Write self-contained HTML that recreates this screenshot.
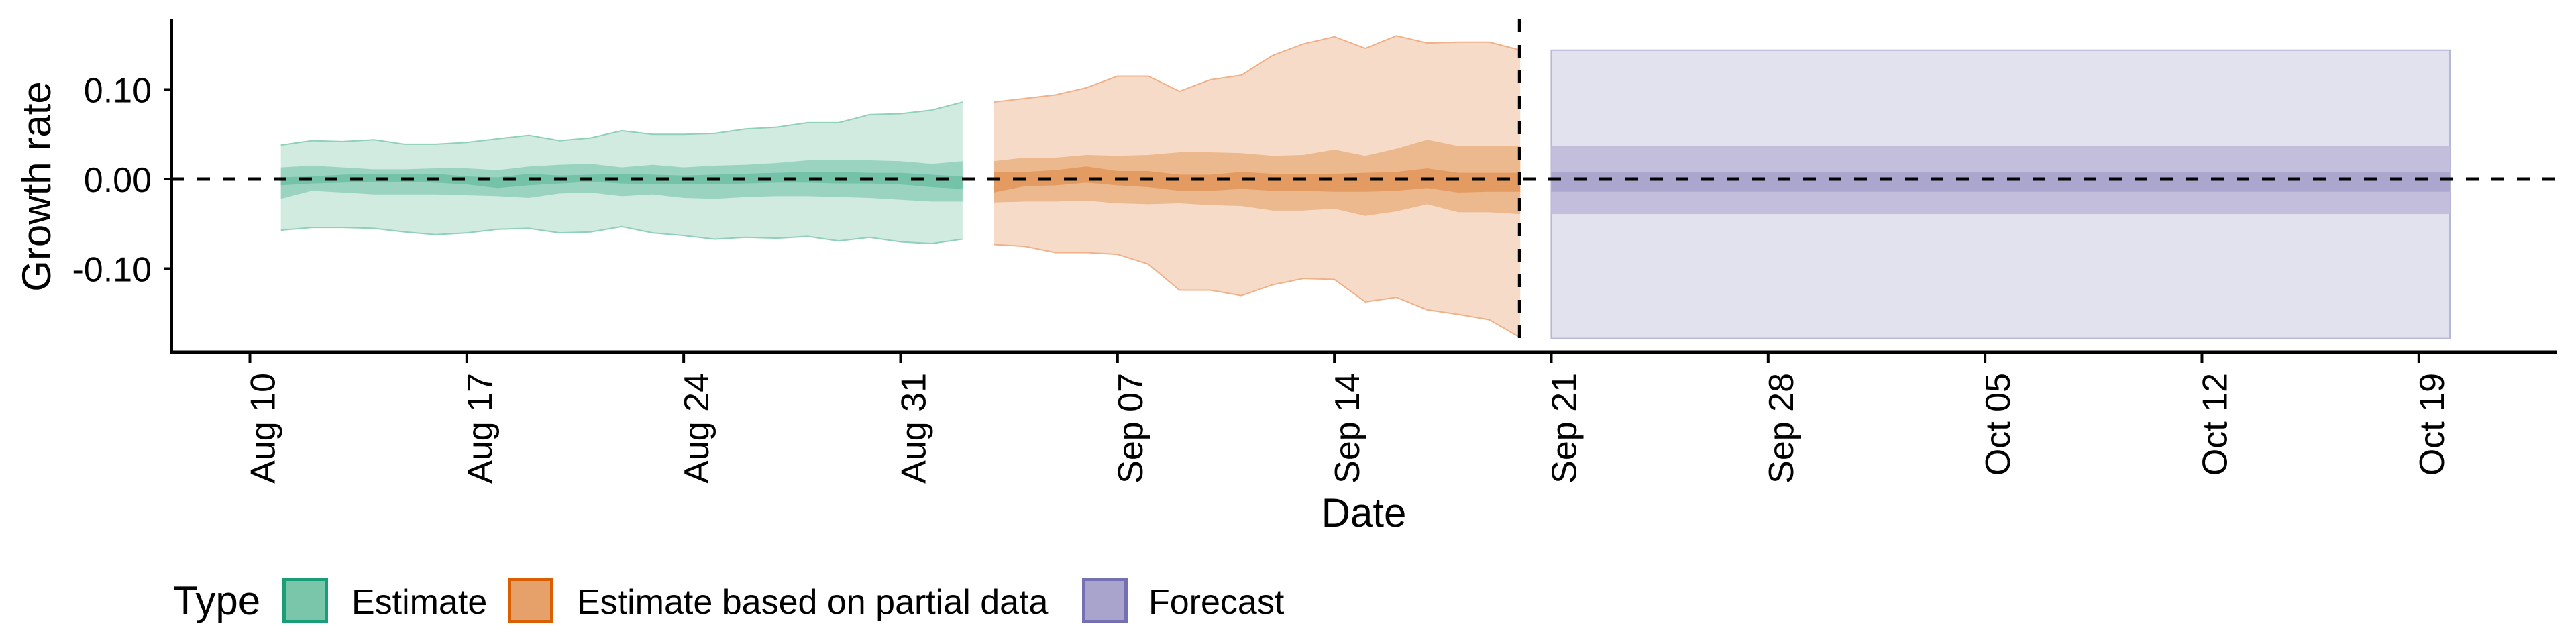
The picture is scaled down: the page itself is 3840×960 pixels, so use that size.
<!DOCTYPE html>
<html><head><meta charset="utf-8"><style>
html,body{margin:0;padding:0;background:#fff;}
svg{display:block;font-family:"Liberation Sans",sans-serif;}
</style></head><body>
<svg id="chart" width="3840" height="960" viewBox="0 0 3840 960" xmlns="http://www.w3.org/2000/svg">
<g id="bands"></g>
<g id="axes"></g>
<g id="legend"></g>
</svg>
<script>
// data
const estStartDay = 1;   // days after Aug 10
const estUpper90 = [0.038,0.043,0.042,0.044,0.039,0.039,0.041,0.045,0.049,0.043,0.046,0.054,0.050,0.050,0.051,0.056,0.058,0.063,0.063,0.072,0.073,0.077,0.086];
const estLower90 = [-0.057,-0.054,-0.054,-0.055,-0.059,-0.062,-0.060,-0.056,-0.055,-0.060,-0.059,-0.053,-0.060,-0.063,-0.067,-0.065,-0.066,-0.064,-0.069,-0.065,-0.070,-0.072,-0.067];
const estUpper50 = [0.013,0.015,0.013,0.011,0.011,0.012,0.012,0.010,0.014,0.016,0.017,0.013,0.016,0.013,0.015,0.016,0.018,0.021,0.021,0.021,0.020,0.017,0.020];
const estLower50 = [-0.022,-0.013,-0.015,-0.017,-0.017,-0.017,-0.018,-0.019,-0.021,-0.016,-0.015,-0.019,-0.017,-0.021,-0.022,-0.020,-0.019,-0.019,-0.020,-0.021,-0.023,-0.025,-0.025];
const estUpper20 = [0.002,0.003,0.005,0.006,0.006,0.006,0.003,0.002,0.006,0.004,0.005,0.006,0.005,0.004,0.005,0.006,0.007,0.008,0.008,0.007,0.007,0.005,0.003];
const estLower20 = [-0.007,-0.005,-0.004,-0.003,-0.003,-0.004,-0.006,-0.010,-0.007,-0.005,-0.003,-0.005,-0.006,-0.006,-0.006,-0.005,-0.004,-0.004,-0.005,-0.005,-0.006,-0.009,-0.011];

const partStartDay = 24;
const partUpper90 = [0.086,0.090,0.094,0.102,0.115,0.115,0.098,0.111,0.116,0.138,0.151,0.159,0.146,0.160,0.152,0.153,0.153,0.144];
const partLower90 = [-0.073,-0.075,-0.082,-0.082,-0.084,-0.095,-0.124,-0.124,-0.130,-0.118,-0.111,-0.112,-0.137,-0.132,-0.146,-0.151,-0.157,-0.177];
const partUpper50 = [0.020,0.024,0.024,0.027,0.026,0.027,0.030,0.030,0.029,0.026,0.027,0.033,0.026,0.034,0.044,0.037,0.037,0.037];
const partLower50 = [-0.026,-0.025,-0.025,-0.024,-0.027,-0.028,-0.027,-0.029,-0.030,-0.035,-0.035,-0.033,-0.041,-0.036,-0.028,-0.037,-0.037,-0.039];
const partUpper20 = [0.008,0.008,0.010,0.014,0.009,0.009,0.005,0.005,0.008,0.006,0.006,0.006,0.007,0.008,0.012,0.007,0.007,0.007];
const partLower20 = [-0.015,-0.008,-0.007,-0.004,-0.007,-0.009,-0.013,-0.013,-0.011,-0.013,-0.013,-0.014,-0.014,-0.013,-0.010,-0.015,-0.014,-0.014];

const fcStartDay = 42, fcEndDay = 71;
const fcBounds90 = [0.144,-0.178];
const fcBounds50 = [0.037,-0.039];
const fcBounds20 = [0.0075,-0.014];

const forecastDateDay = 41;
const xTickLabels = ["Aug 10","Aug 17","Aug 24","Aug 31","Sep 07","Sep 14","Sep 21","Sep 28","Oct 05","Oct 12","Oct 19"];
const xTickDays = [0,7,14,21,28,35,42,49,56,63,70];
const yTickValues = [0.10,0.00,-0.10];
const yTickLabels = ["0.10","0.00","-0.10"];

// scales
const L=256,R=3811,T=29,B=525;
const x = d => 372.5 + d*46.19;
const y = v => 267 - v*1335;
const NS="http://www.w3.org/2000/svg";
function mk(tag, attrs, parent){const e=document.createElementNS(NS,tag);for(const k in attrs)e.setAttribute(k,attrs[k]);parent.appendChild(e);return e;}
const bands=document.getElementById('bands'), axes=document.getElementById('axes'), legend=document.getElementById('legend');

function band(start, up, lo, fill, stroke, name){
  let pts=up.map((v,i)=>x(start+i)+","+y(v));
  for(let i=lo.length-1;i>=0;i--)pts.push(x(start+i)+","+y(lo[i]));
  const p=mk('polygon',{points:pts.join(" "),fill:fill},bands);
  
  
  if(stroke){
    const a=mk('polyline',{points:up.map((v,i)=>x(start+i)+","+y(v)).join(" "),fill:"none",stroke:stroke,"stroke-width":2},bands);
    
    
    const b=mk('polyline',{points:lo.map((v,i)=>x(start+i)+","+y(v)).join(" "),fill:"none",stroke:stroke,"stroke-width":2},bands);
    
    
  }
}
band(estStartDay,estUpper90,estLower90,"#d1ebe1","#8fd0ba","estimate-90-band");
band(estStartDay,estUpper50,estLower50,"#9ad4c1",null,"estimate-50-band");
band(estStartDay,estUpper20,estLower20,"#74c3a9",null,"estimate-20-band");
band(partStartDay,partUpper90,partLower90,"#f6dcc8","#f0b088","partial-90-band");
band(partStartDay,partUpper50,partLower50,"#ecb88d",null,"partial-50-band");
band(partStartDay,partUpper20,partLower20,"#e49b62",null,"partial-20-band");
[[fcBounds90,"#e2e2ee","#b8b5d6","forecast-90-band"],[fcBounds50,"#c2bedc",null,"forecast-50-band"],[fcBounds20,"#aaa6ce",null,"forecast-20-band"]].forEach(f=>{
  const r=mk('rect',{x:x(fcStartDay),y:y(f[0][0]),width:x(fcEndDay)-x(fcStartDay),height:y(f[0][1])-y(f[0][0]),fill:f[1]},bands);
  if(f[2]){r.setAttribute('stroke',f[2]);r.setAttribute('stroke-width',2);}
  
  
});

// zero line & forecast line
const zl=mk('line',{x1:L,x2:R,y1:y(0),y2:y(0),stroke:"#000","stroke-width":5,"stroke-dasharray":"19 19"},axes);


const vl=mk('line',{x1:x(forecastDateDay)-1,x2:x(forecastDateDay)-1,y1:T,y2:B,stroke:"#000","stroke-width":5,"stroke-dasharray":"19 19"},axes);



// axes
const ya=mk('line',{x1:L,x2:L,y1:T,y2:B+2,stroke:"#000","stroke-width":4},axes);


const xa=mk('line',{x1:L-2,x2:R,y1:B,y2:B,stroke:"#000","stroke-width":5},axes);


yTickValues.forEach((v,i)=>{
  const t=mk('line',{x1:L-12,x2:L,y1:y(v),y2:y(v),stroke:"#000","stroke-width":4},axes);
  
  
  const tx=mk('text',{x:226,y:y(v)+19,"text-anchor":"end","font-size":52,fill:"#000"},axes);
  tx.textContent=yTickLabels[i];
  
  
});
xTickDays.forEach((d,i)=>{
  const t=mk('line',{x1:x(d),x2:x(d),y1:B,y2:B+16,stroke:"#000","stroke-width":4},axes);
  
  
  const tx=mk('text',{x:0,y:0,"text-anchor":"end","font-size":52,fill:"#000",transform:`translate(${x(d)+37},556) rotate(-90)`},axes);
  tx.textContent=xTickLabels[i];
  
  
});
const yt=mk('text',{x:0,y:0,"text-anchor":"middle","font-size":60,fill:"#000",transform:"translate(75,278) rotate(-90)"},axes);
yt.textContent="Growth rate";


const xt=mk('text',{x:2033,y:785,"text-anchor":"middle","font-size":60,fill:"#000"},axes);
xt.textContent="Date";



// legend
const lt=mk('text',{x:258,y:916,"font-size":60,fill:"#000"},legend);
lt.textContent="Type";


const legendItems=[["Estimate",421,"#79c6ab","#1b9e77",524,"legend-entry-estimate"],["Estimate based on partial data",757,"#e6a06a","#d95f02",860,"legend-entry-partial"],["Forecast",1613,"#a8a4cc","#7570b3",1712,"legend-entry-forecast"]];
legendItems.forEach(it=>{
  const r=mk('rect',{x:it[1]+2.5,y:863.5,width:63,height:63,fill:it[2],stroke:it[3],"stroke-width":5},legend);
  
  
  const t=mk('text',{x:it[4],y:915,"font-size":52,fill:"#000"},legend);
  t.textContent=it[0];
  
  
});
</script>
</body></html>
